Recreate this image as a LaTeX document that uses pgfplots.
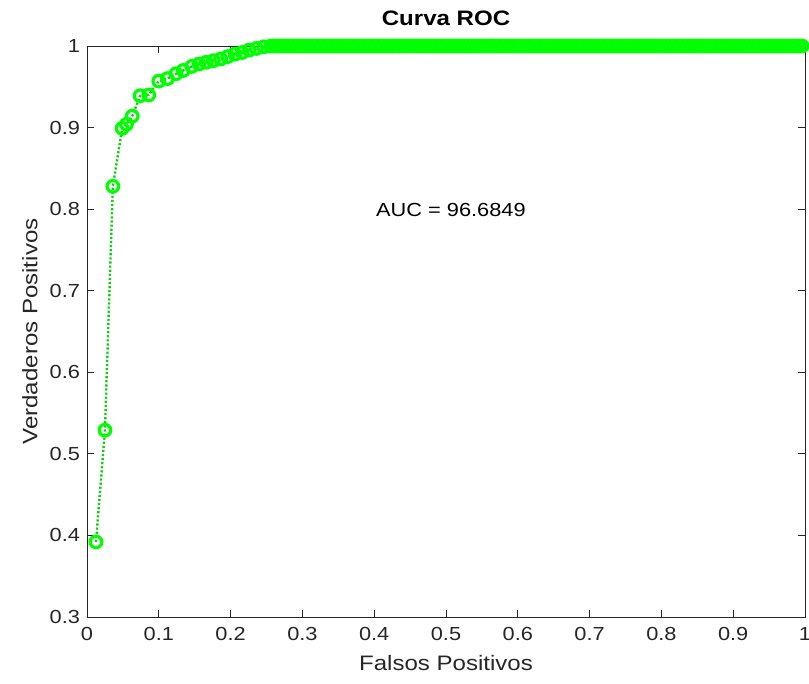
\documentclass[border=0pt]{standalone}
\usepackage{pgfplots}
\pgfplotsset{compat=1.18}
\usepackage{fontspec}
\setmainfont{Liberation Sans}[FakeStretch=1.15]

\definecolor{axgray}{RGB}{38,38,38}
\definecolor{rocgreen}{RGB}{0,255,0}
\definecolor{dotgreen}{RGB}{20,205,20}

\pgfplotstableread{
fp tp
0.0125 0.392
0.025 0.529
0.036 0.828
0.049 0.899
0.055 0.904
0.063 0.914
0.074 0.939
0.086 0.940
0.100 0.957
0.112 0.960
0.124 0.966
0.134 0.970
0.146 0.975
0.156 0.978
0.166 0.980
0.176 0.982
0.186 0.984
0.196 0.987
0.206 0.990
0.216 0.992
0.226 0.995
0.236 0.997
0.246 0.999
0.256 1.000
0.261 1.000
0.266 1.000
0.271 1.000
0.276 1.000
0.281 1.000
0.286 1.000
0.291 1.000
0.296 1.000
0.301 1.000
0.306 1.000
0.311 1.000
0.316 1.000
0.321 1.000
0.326 1.000
0.331 1.000
0.336 1.000
0.341 1.000
0.346 1.000
0.351 1.000
0.356 1.000
0.361 1.000
0.366 1.000
0.371 1.000
0.376 1.000
0.381 1.000
0.386 1.000
0.391 1.000
0.396 1.000
0.401 1.000
0.406 1.000
0.411 1.000
0.416 1.000
0.421 1.000
0.426 1.000
0.431 1.000
0.436 1.000
0.441 1.000
0.446 1.000
0.451 1.000
0.456 1.000
0.461 1.000
0.466 1.000
0.471 1.000
0.476 1.000
0.481 1.000
0.486 1.000
0.491 1.000
0.496 1.000
0.501 1.000
0.506 1.000
0.511 1.000
0.516 1.000
0.521 1.000
0.526 1.000
0.531 1.000
0.536 1.000
0.541 1.000
0.546 1.000
0.551 1.000
0.556 1.000
0.561 1.000
0.566 1.000
0.571 1.000
0.576 1.000
0.581 1.000
0.586 1.000
0.591 1.000
0.596 1.000
0.601 1.000
0.606 1.000
0.611 1.000
0.616 1.000
0.621 1.000
0.626 1.000
0.631 1.000
0.636 1.000
0.641 1.000
0.646 1.000
0.651 1.000
0.656 1.000
0.661 1.000
0.666 1.000
0.671 1.000
0.676 1.000
0.681 1.000
0.686 1.000
0.691 1.000
0.696 1.000
0.701 1.000
0.706 1.000
0.711 1.000
0.716 1.000
0.721 1.000
0.726 1.000
0.731 1.000
0.736 1.000
0.741 1.000
0.746 1.000
0.751 1.000
0.756 1.000
0.761 1.000
0.766 1.000
0.771 1.000
0.776 1.000
0.781 1.000
0.786 1.000
0.791 1.000
0.796 1.000
0.801 1.000
0.806 1.000
0.811 1.000
0.816 1.000
0.821 1.000
0.826 1.000
0.831 1.000
0.836 1.000
0.841 1.000
0.846 1.000
0.851 1.000
0.856 1.000
0.861 1.000
0.866 1.000
0.871 1.000
0.876 1.000
0.881 1.000
0.886 1.000
0.891 1.000
0.896 1.000
0.901 1.000
0.906 1.000
0.911 1.000
0.916 1.000
0.921 1.000
0.926 1.000
0.931 1.000
0.936 1.000
0.941 1.000
0.946 1.000
0.951 1.000
0.956 1.000
0.961 1.000
0.966 1.000
0.971 1.000
0.976 1.000
0.981 1.000
0.986 1.000
0.991 1.000
0.996 1.000
}\roc

\begin{document}
\begin{tikzpicture}
\begin{axis}[
  width=718bp, height=571bp,
  scale only axis,
  xmin=0, xmax=1,
  ymin=0.3, ymax=1,
  xtick={0,0.1,...,1},
  ytick={0.3,0.4,...,1},
  tick align=inside,
  major tick length=7bp,
  axis line style={axgray, line width=0.8bp},
  every tick/.style={axgray, line width=0.8bp},
  tick label style={font=\fontsize{19}{23}\selectfont, text=axgray},
  /pgf/number format/assume math mode=true,
  yticklabel style={/pgf/number format/fixed, /pgf/number format/precision=1, xshift=-3.5bp},
  xticklabel style={/pgf/number format/fixed, /pgf/number format/precision=1, yshift=-7bp},
  xlabel={Falsos Positivos},
  ylabel={Verdaderos Positivos},
  label style={font=\fontsize{21}{25}\selectfont, text=axgray},
  xlabel style={at={(axis description cs:0.5,-0.0806)}, anchor=center},
  ylabel style={at={(axis description cs:-0.0794,0.5)}, anchor=center},
  title={\textbf{Curva ROC}},
  title style={font=\fontsize{21}{25}\selectfont, at={(axis description cs:0.5,1.0385)}, anchor=center},
  clip=false,
]
\addplot[dotgreen, line width=2.4bp, dash pattern=on 2.2bp off 1.9bp,
  mark=o, mark size=5.8bp, mark options={solid, rocgreen, line width=3.2bp}]
  table[x=fp, y=tp] {\roc};
\node[anchor=west, inner sep=0pt, font=\fontsize{19}{23}\selectfont, text=black]
  at (axis cs:0.4025,0.799) {AUC = 96.6849};
\coordinate (bl) at (rel axis cs:0,0);
\end{axis}
\pgfresetboundingbox
\path[use as bounding box] ([shift={(-87bp,-67bp)}]bl) rectangle ([shift={(722bp,617bp)}]bl);
\end{tikzpicture}
\end{document}
